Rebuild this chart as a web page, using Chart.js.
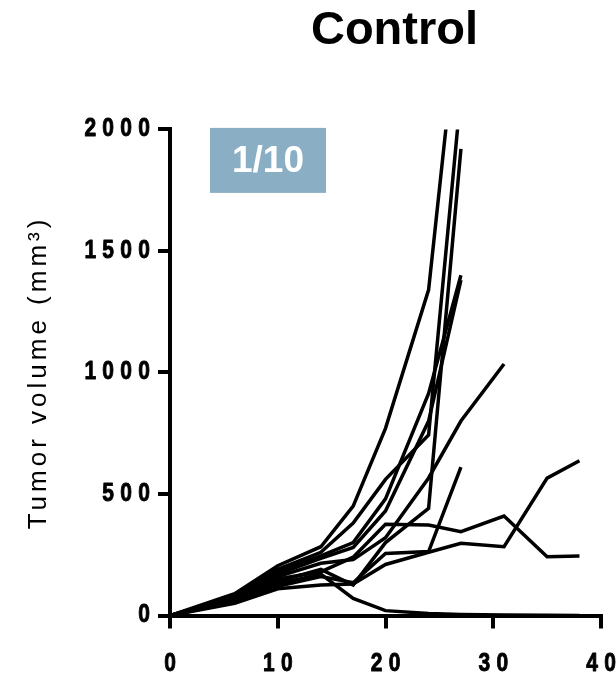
<!DOCTYPE html>
<html><head><meta charset="utf-8">
<script src="https://cdn.jsdelivr.net/npm/chart.js@4.4.1/dist/chart.umd.min.js"></script>
<style>html,body{margin:0;padding:0;background:#fff;} #wrap{width:616px;height:680px;}</style>
</head><body><div id="wrap"><canvas id="c" width="616" height="680"></canvas></div>
<script>
// ---- data ----
const days = [0, 6, 10, 14, 17, 20, 24, 27, 31, 35, 38];
const mouse1 = [0, 90, 205, 283, 450, 770, 1340, 2580];
const mouse2 = [0, 80, 190, 260, 380, 560, 743, 2150];
const mouse3 = [0, 75, 180, 245, 300, 480, 914, 1400];
const mouse4 = [0, 70, 170, 235, 280, 430, 800, 1380];
const mouse5 = [0, 60, 140, 190, 125, 300, 441, 1920];
const mouse6 = [0, 55, 120, 160, 135, 255, 263, 610];
const mouse7 = [0, 65, 160, 215, 230, 320, 566, 800, 1035];
const mouse8 = [0, 50, 110, 125, 130, 210, 260, 297, 283, 565, 637];
const mouse9 = [0, 65, 150, 180, 240, 375, 372, 345, 409, 242, 245];
const mouse10 = [0, 60, 130, 170, 70, 20, 8, 4, 2, 1, 0];
const seriesList = [mouse1, mouse2, mouse3, mouse4, mouse5, mouse6, mouse7, mouse8, mouse9, mouse10];
const xTicks = [0, 10, 20, 30, 40];
const yTicks = [0, 500, 1000, 1500, 2000];
const chartTitle = 'Control';
const yTitle = 'Tumor volume (mm³)';
const badgeText = '1/10';

// linear scale whose tick labels are letter-spaced, condensed and emboldened; title letter-spaced
class SpacedLinear extends Chart.LinearScale {
  drawLabels(area) {
    const ctx = this.ctx;
    const sx = this.options.labelScaleX || 1;
    const ls = this.options.labelSpacing || 0;
    const sw = this.options.labelStroke || 0;
    const orig = CanvasRenderingContext2D.prototype.fillText;
    ctx.save();
    ctx.letterSpacing = ls + 'px';
    ctx.fillText = function (t, x, y, mw) {
      let dx = 0;
      if (this.textAlign === 'center') dx = ls / 2;
      else if (this.textAlign === 'right' || this.textAlign === 'end') dx = ls;
      this.save();
      this.scale(sx, 1);
      orig.call(this, t, x / sx + dx, y, mw);
      if (sw > 0) {
        this.strokeStyle = this.fillStyle;
        this.lineWidth = sw;
        this.lineJoin = 'round';
        this.strokeText(t, x / sx + dx, y);
      }
      this.restore();
    };
    try { super.drawLabels(area); } finally { delete ctx.fillText; ctx.restore(); }
  }
  drawTitle() {
    const ctx = this.ctx;
    ctx.save();
    ctx.letterSpacing = (this.options.titleSpacing || 0) + 'px';
    super.drawTitle();
    ctx.restore();
  }
}
SpacedLinear.id = 'spacedLinear';
SpacedLinear.defaults = Chart.LinearScale.defaults;
Chart.register(SpacedLinear);

const titleShift = {
  id: 'titleShift',
  beforeDraw(chart) {
    const t = chart.titleBlock, a = chart.chartArea;
    if (t) { const c = (a.left + a.right) / 2 + 9; t.left = 2 * c - t.right; }
  }
};
const badge = {
  id: 'badge',
  afterDraw(chart) {
    const { ctx, chartArea: a } = chart;
    const x0 = a.left + 40, y0 = a.top - 1.5, w = 116, h = 65;
    ctx.save();
    ctx.fillStyle = '#8aaec3';
    ctx.fillRect(x0, y0, w, h);
    ctx.fillStyle = '#ffffff';
    ctx.font = 'bold 37px "Liberation Sans", Arial, sans-serif';
    ctx.textAlign = 'center';
    ctx.textBaseline = 'middle';
    ctx.fillText(badgeText, x0 + w / 2, y0 + h / 2 + 1);
    ctx.restore();
  }
};

const datasets = seriesList.map((s, k) => ({
  label: 'Mouse ' + (k + 1),
  data: s.map((v, i) => ({ x: days[i], y: v })),
  borderColor: '#000', borderWidth: 3.5, pointRadius: 0, fill: false, tension: 0
}));

const tickFont = { family: '"Liberation Sans", Arial, sans-serif', size: 25, weight: 'bold' };

new Chart(document.getElementById('c'), {
  type: 'line',
  data: { datasets },
  plugins: [titleShift, badge],
  options: {
    responsive: false, animation: false, devicePixelRatio: 1,
    layout: { padding: { left: 0, right: 15, top: 0, bottom: 0 } },
    plugins: {
      legend: { display: false }, tooltip: { enabled: false },
      title: { display: true, text: chartTitle, color: '#000',
        font: { family: '"Liberation Sans", Arial, sans-serif', size: 47, weight: 'bold' },
        padding: { top: 2.5, bottom: 70.5 } }
    },
    scales: {
      x: {
        type: 'spacedLinear', position: 'bottom', min: 0, max: 40,
        afterBuildTicks: s => { s.ticks = xTicks.map(v => ({ value: v })); },
        afterFit: s => { s.height = 64.5; s.paddingLeft = 0; s.paddingRight = 0; },
        border: { color: '#000', width: 4 },
        grid: { drawOnChartArea: false, drawTicks: true, tickLength: 13, color: '#000', lineWidth: 4 },
        ticks: { color: '#000', font: tickFont, padding: 21, maxRotation: 0, autoSkip: false, callback: v => String(v) },
        labelSpacing: 7.5, labelScaleX: 0.84, labelStroke: 0.9
      },
      y: {
        type: 'spacedLinear', position: 'left', min: 0, max: 2000,
        afterBuildTicks: s => { s.ticks = yTicks.map(v => ({ value: v })); },
        afterFit: s => { s.width = 170; s.paddingTop = 0; s.paddingBottom = 0; },
        border: { color: '#000', width: 4 },
        grid: { drawOnChartArea: false, drawTicks: true, tickLength: 12, color: '#000', lineWidth: 4 },
        ticks: { color: '#000', font: tickFont, padding: 8, autoSkip: false, callback: v => String(v) },
        labelSpacing: 7.5, labelScaleX: 0.84, labelStroke: 0.9,
        title: { display: true, text: yTitle, color: '#000',
          font: { family: '"Liberation Sans", Arial, sans-serif', size: 26, weight: 'normal' },
          padding: { top: 23, bottom: 0 } },
        titleSpacing: 4
      }
    }
  }
});
</script></body></html>
